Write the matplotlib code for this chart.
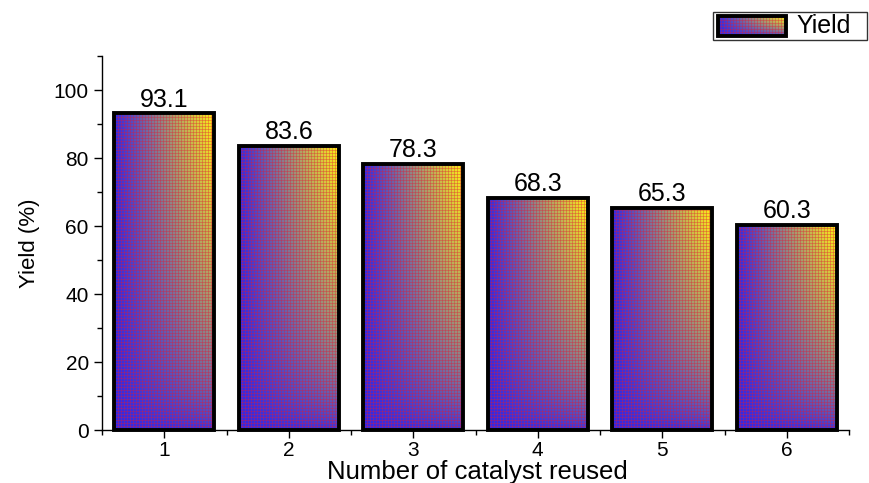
import numpy as np
import matplotlib
matplotlib.use("Agg")
import matplotlib.pyplot as plt
from matplotlib.patches import Rectangle
from matplotlib.ticker import MultipleLocator

plt.rcParams['font.family'] = ['Liberation Sans', 'DejaVu Sans']

cycles = [1, 2, 3, 4, 5, 6]
yields = [93.1, 83.6, 78.3, 68.3, 65.3, 60.3]
value_labels = ["93.1", "83.6", "78.3", "68.3", "65.3", "60.3"]
y_ticks = [0, 20, 40, 60, 80, 100]

W, H = 870, 483
fig = plt.figure(figsize=(W / 100, H / 100), dpi=100)
ax = fig.add_axes([102 / W, 1 - 430 / H, (849 - 102) / W, (430 - 56) / H])
ax.set_xlim(0.5, 6.5)
ax.set_ylim(0, 110)
ax.patch.set_visible(False)

BLUE = np.array([50, 40, 230]) / 255.0
YELLOW = np.array([255, 240, 20]) / 255.0
RED = np.array([225, 25, 50]) / 255.0
GRID = 3


def fill_pixels(canvas, cx0, cx1, cy0, cy1):
    """Paint the gradient+plaid into canvas over display-pixel box (float bounds)."""
    j0, j1 = int(np.ceil(cx0)), int(np.floor(cx1))
    k0, k1 = int(np.ceil(cy0)), int(np.floor(cy1))
    jj = np.arange(j0, j1)
    kk = np.arange(k0, k1)
    xf = np.clip((jj + 0.5 - cx0) / (cx1 - cx0), 0, 1)[None, :]
    yf = np.clip((kk + 0.5 - cy0) / (cy1 - cy0), 0, 1)[:, None]
    t = np.clip(xf * yf ** 0.6, 0, 1)
    img = BLUE * (1 - t[..., None]) + YELLOW * t[..., None]
    r = (kk - k0) % GRID
    c = (jj - j0) % GRID
    red = (((r == 0)[:, None]).astype(float) * 0.35 +
           ((c == 0)[None, :]).astype(float) * 0.35)
    red = np.clip(red, 0, 0.55)
    img = img * (1 - red[..., None]) + RED * red[..., None]
    canvas[k0:k1, j0:j1, :3] = np.clip(img, 0, 1)
    canvas[k0:k1, j0:j1, 3] = 1.0


fig.canvas.draw()
canvas = np.zeros((H, W, 4))
width = 0.8
for x, v, lab in zip(cycles, yields, value_labels):
    x0, x1 = x - width / 2, x + width / 2
    (px0, py0) = ax.transData.transform((x0, 0))
    (px1, py1) = ax.transData.transform((x1, v))
    fill_pixels(canvas, px0, px1, py0, py1)
    ax.add_patch(Rectangle((x0, 0), width, v, facecolor='none', edgecolor='black',
                           linewidth=2.8, zorder=3, clip_on=False))
    ax.text(x, v + 0.5, lab, ha='center', va='bottom', fontsize=18, zorder=4)

ax.set_xticks(cycles)
ax.set_yticks(y_ticks)
ax.xaxis.set_minor_locator(MultipleLocator(0.5))
ax.yaxis.set_minor_locator(MultipleLocator(10))
for s in ['top', 'right']:
    ax.spines[s].set_visible(False)
for s in ['left', 'bottom']:
    ax.spines[s].set_linewidth(1.0)
ax.tick_params(axis='both', which='major', direction='out', length=6, width=1.0,
               labelsize=15)
ax.tick_params(axis='both', which='minor', direction='out', length=3.5, width=1.0)
ax.tick_params(axis='x', pad=2)
ax.set_ylabel("Yield (%)", fontsize=16, labelpad=10)
fig.text(477 / W, 1 - 472 / H, "Number of catalyst reused", fontsize=18.5,
         ha='center', va='center')

# Legend (manual)
fig.patches.append(Rectangle((713 / W, 1 - 40 / H), (867 - 713) / W, 28 / H,
                             transform=fig.transFigure, facecolor='white',
                             edgecolor='#333333', linewidth=1.0, zorder=-1))
lx0, lx1, ly0, ly1 = 718, 786, H - 36, H - 16
fill_pixels(canvas, lx0, lx1, ly0, ly1)
fig.patches.append(Rectangle((lx0 / W, ly0 / H), (lx1 - lx0) / W, (ly1 - ly0) / H,
                             transform=fig.transFigure, facecolor='none',
                             edgecolor='black', linewidth=2.8, zorder=2))
fig.text(796 / W, 1 - 26 / H, "Yield", fontsize=18, va='center', ha='left', zorder=6)

fig.figimage(canvas, xo=0, yo=0, origin='lower', zorder=-0.5)

fig.savefig("out.png", dpi=100)
